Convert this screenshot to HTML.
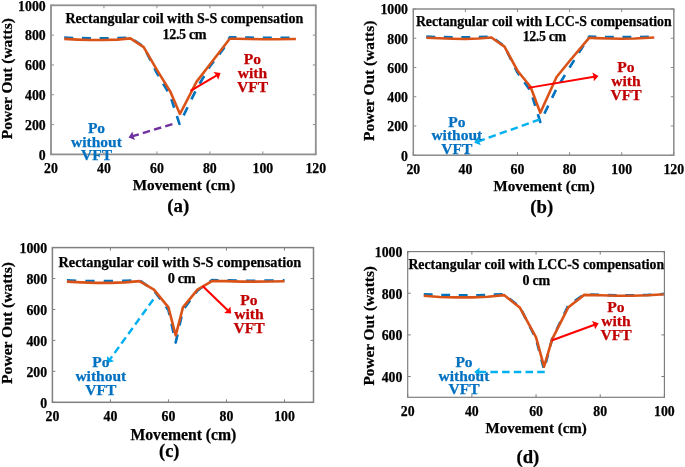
<!DOCTYPE html>
<html><head><meta charset="utf-8"><style>
html,body{margin:0;padding:0;background:#fff;}
svg{display:block;filter:blur(0.5px);}
text{font-family:'Liberation Serif', serif;font-weight:bold;}
</style></head><body>
<svg width="685" height="467" viewBox="0 0 685 467">
<rect width="685" height="467" fill="#fff"/>
<polyline points="64.24,37.65 77.48,38.10 90.72,38.25 103.96,38.25 117.20,38.10 130.44,37.80 143.68,46.75 156.92,73.14 170.16,95.51 179.43,123.83 196.64,88.80 209.88,66.43 223.12,49.28 229.74,37.36 236.36,37.36 249.60,37.65 262.84,37.80 276.08,37.80 295.94,37.65" fill="none" stroke="#0072bd" stroke-width="2.6" stroke-linejoin="round" stroke-dasharray="9 8.7"/>
<polyline points="64.24,38.85 77.48,39.59 90.72,40.04 103.96,40.04 117.20,39.59 130.44,38.40 143.68,47.05 156.92,69.86 170.16,91.33 179.96,113.99 196.64,81.64 209.88,64.49 229.74,38.70 236.36,38.70 249.60,39.00 262.84,39.29 276.08,39.29 295.94,39.00" fill="none" stroke="#d95319" stroke-width="2.6" stroke-linejoin="round"/>
<rect x="51" y="5.3" width="264.80" height="149.10" fill="none" stroke="#909090" stroke-width="1.8"/>
<path d="M51.00,154.4v-3M51.00,5.3v3M103.96,154.4v-3M103.96,5.3v3M156.92,154.4v-3M156.92,5.3v3M209.88,154.4v-3M209.88,5.3v3M262.84,154.4v-3M262.84,5.3v3M315.80,154.4v-3M315.80,5.3v3M51,154.40h3M315.8,154.40h-3M51,124.58h3M315.8,124.58h-3M51,94.76h3M315.8,94.76h-3M51,64.94h3M315.8,64.94h-3M51,35.12h3M315.8,35.12h-3M51,5.30h3M315.8,5.30h-3" stroke="#909090" stroke-width="1" fill="none"/>
<text x="51.00" y="172.90" font-size="13.8" fill="#000" stroke="#000" stroke-width="0.25" text-anchor="middle" >20</text>
<text x="103.96" y="172.90" font-size="13.8" fill="#000" stroke="#000" stroke-width="0.25" text-anchor="middle" >40</text>
<text x="156.92" y="172.90" font-size="13.8" fill="#000" stroke="#000" stroke-width="0.25" text-anchor="middle" >60</text>
<text x="209.88" y="172.90" font-size="13.8" fill="#000" stroke="#000" stroke-width="0.25" text-anchor="middle" >80</text>
<text x="262.84" y="172.90" font-size="13.8" fill="#000" stroke="#000" stroke-width="0.25" text-anchor="middle" >100</text>
<text x="315.80" y="172.90" font-size="13.8" fill="#000" stroke="#000" stroke-width="0.25" text-anchor="middle" >120</text>
<text x="45.70" y="159.70" font-size="13.8" fill="#000" stroke="#000" stroke-width="0.25" text-anchor="end" >0</text>
<text x="45.70" y="129.88" font-size="13.8" fill="#000" stroke="#000" stroke-width="0.25" text-anchor="end" >200</text>
<text x="45.70" y="100.06" font-size="13.8" fill="#000" stroke="#000" stroke-width="0.25" text-anchor="end" >400</text>
<text x="45.70" y="70.24" font-size="13.8" fill="#000" stroke="#000" stroke-width="0.25" text-anchor="end" >600</text>
<text x="45.70" y="40.42" font-size="13.8" fill="#000" stroke="#000" stroke-width="0.25" text-anchor="end" >800</text>
<text x="45.70" y="10.60" font-size="13.8" fill="#000" stroke="#000" stroke-width="0.25" text-anchor="end" >1000</text>
<text x="184.35" y="23.40" font-size="14" fill="#000" stroke="#000" stroke-width="0.25" text-anchor="middle" >Rectangular coil with S-S compensation</text>
<text x="184.40" y="38.90" font-size="14.1" fill="#000" stroke="#000" stroke-width="0.25" text-anchor="middle" letter-spacing="-0.35">12.5 cm</text>
<line x1="190.50" y1="90.90" x2="216.73" y2="75.30" stroke="#ff0000" stroke-width="2.1"/>
<polygon points="220.60,73.00 218.17,79.68 216.30,75.56 213.57,71.94" fill="#ff0000"/>
<text x="252.50" y="64.10" font-size="15.6" fill="#c00000" stroke="#c00000" stroke-width="0.25" text-anchor="middle" >Po</text>
<text x="252.50" y="78.10" font-size="15.6" fill="#c00000" stroke="#c00000" stroke-width="0.25" text-anchor="middle" >with</text>
<text x="252.50" y="92.10" font-size="15.6" fill="#c00000" stroke="#c00000" stroke-width="0.25" text-anchor="middle" >VFT</text>
<line x1="172.40" y1="124.10" x2="132.81" y2="136.10" stroke="#7030a0" stroke-width="2.4" stroke-dasharray="7.5 4.2"/>
<polygon points="128.50,137.40 132.46,131.50 133.29,135.95 135.07,140.11" fill="#7030a0"/>
<text x="96.50" y="133.10" font-size="15.5" fill="#0070c0" stroke="#0070c0" stroke-width="0.25" text-anchor="middle" >Po</text>
<text x="96.50" y="146.70" font-size="15.5" fill="#0070c0" stroke="#0070c0" stroke-width="0.25" text-anchor="middle" >without</text>
<text x="96.50" y="160.30" font-size="15.5" fill="#0070c0" stroke="#0070c0" stroke-width="0.25" text-anchor="middle" >VFT</text>
<text x="184.00" y="190.00" font-size="15.2" fill="#000" stroke="#000" stroke-width="0.25" text-anchor="middle" >Movement (cm)</text>
<text x="178.30" y="212.00" font-size="18.9" fill="#000" stroke="#000" stroke-width="0.25" text-anchor="middle" >(a)</text>
<text transform="translate(12.3,78.7) rotate(-90)" stroke="#000" stroke-width="0.25" font-size="15.5" text-anchor="middle">Power Out (watts)</text>
<polyline points="426.32,36.63 439.35,37.07 452.38,37.36 465.40,37.36 478.43,37.07 491.45,36.78 504.47,46.28 517.50,72.60 530.52,90.87 540.29,122.01 556.58,88.68 569.60,67.48 589.14,36.63 595.65,36.78 608.67,37.07 621.70,37.07 634.72,37.07 654.26,36.78" fill="none" stroke="#0072bd" stroke-width="2.6" stroke-linejoin="round" stroke-dasharray="8.9 8.6"/>
<polyline points="426.32,37.80 439.35,38.24 452.38,38.68 465.40,38.97 478.43,38.53 491.45,37.51 504.47,46.57 517.50,70.70 530.52,86.78 540.29,112.80 556.58,76.98 569.60,61.05 589.14,37.80 595.65,38.09 608.67,38.53 621.70,38.82 634.72,38.53 654.26,37.51" fill="none" stroke="#d95319" stroke-width="2.6" stroke-linejoin="round"/>
<rect x="413.3" y="9.0" width="260.50" height="146.20" fill="none" stroke="#8a8a8a" stroke-width="1.5"/>
<path d="M413.30,155.2v-3M413.30,9.0v3M465.40,155.2v-3M465.40,9.0v3M517.50,155.2v-3M517.50,9.0v3M569.60,155.2v-3M569.60,9.0v3M621.70,155.2v-3M621.70,9.0v3M673.80,155.2v-3M673.80,9.0v3M413.3,155.20h3M673.8,155.20h-3M413.3,125.96h3M673.8,125.96h-3M413.3,96.72h3M673.8,96.72h-3M413.3,67.48h3M673.8,67.48h-3M413.3,38.24h3M673.8,38.24h-3M413.3,9.00h3M673.8,9.00h-3" stroke="#8a8a8a" stroke-width="1" fill="none"/>
<text x="413.30" y="173.70" font-size="13.8" fill="#000" stroke="#000" stroke-width="0.25" text-anchor="middle" >20</text>
<text x="465.40" y="173.70" font-size="13.8" fill="#000" stroke="#000" stroke-width="0.25" text-anchor="middle" >40</text>
<text x="517.50" y="173.70" font-size="13.8" fill="#000" stroke="#000" stroke-width="0.25" text-anchor="middle" >60</text>
<text x="569.60" y="173.70" font-size="13.8" fill="#000" stroke="#000" stroke-width="0.25" text-anchor="middle" >80</text>
<text x="621.70" y="173.70" font-size="13.8" fill="#000" stroke="#000" stroke-width="0.25" text-anchor="middle" >100</text>
<text x="673.80" y="173.70" font-size="13.8" fill="#000" stroke="#000" stroke-width="0.25" text-anchor="middle" >120</text>
<text x="408.00" y="160.50" font-size="13.8" fill="#000" stroke="#000" stroke-width="0.25" text-anchor="end" >0</text>
<text x="408.00" y="131.26" font-size="13.8" fill="#000" stroke="#000" stroke-width="0.25" text-anchor="end" >200</text>
<text x="408.00" y="102.02" font-size="13.8" fill="#000" stroke="#000" stroke-width="0.25" text-anchor="end" >400</text>
<text x="408.00" y="72.78" font-size="13.8" fill="#000" stroke="#000" stroke-width="0.25" text-anchor="end" >600</text>
<text x="408.00" y="43.54" font-size="13.8" fill="#000" stroke="#000" stroke-width="0.25" text-anchor="end" >800</text>
<text x="408.00" y="14.30" font-size="13.8" fill="#000" stroke="#000" stroke-width="0.25" text-anchor="end" >1000</text>
<text x="543.80" y="26.10" font-size="13.8" fill="#000" stroke="#000" stroke-width="0.25" text-anchor="middle" >Rectangular coil with LCC-S compensation</text>
<text x="544.20" y="41.20" font-size="14" fill="#000" stroke="#000" stroke-width="0.25" text-anchor="middle" letter-spacing="-0.4">12.5 cm</text>
<line x1="528.20" y1="87.90" x2="594.06" y2="76.75" stroke="#ff0000" stroke-width="1.9"/>
<polygon points="598.50,76.00 593.83,81.35 593.57,76.83 592.33,72.48" fill="#ff0000"/>
<text x="626.00" y="71.90" font-size="15.6" fill="#c00000" stroke="#c00000" stroke-width="0.25" text-anchor="middle" >Po</text>
<text x="626.00" y="85.90" font-size="15.6" fill="#c00000" stroke="#c00000" stroke-width="0.25" text-anchor="middle" >with</text>
<text x="626.00" y="99.90" font-size="15.6" fill="#c00000" stroke="#c00000" stroke-width="0.25" text-anchor="middle" >VFT</text>
<line x1="539.80" y1="119.40" x2="478.44" y2="141.29" stroke="#00b0f0" stroke-width="2.4" stroke-dasharray="7.5 4.2"/>
<polygon points="474.20,142.80 477.87,136.71 478.91,141.12 480.89,145.19" fill="#00b0f0"/>
<text x="456.80" y="126.60" font-size="15.5" fill="#0070c0" stroke="#0070c0" stroke-width="0.25" text-anchor="middle" >Po</text>
<text x="456.80" y="140.20" font-size="15.5" fill="#0070c0" stroke="#0070c0" stroke-width="0.25" text-anchor="middle" >without</text>
<text x="456.80" y="153.80" font-size="15.5" fill="#0070c0" stroke="#0070c0" stroke-width="0.25" text-anchor="middle" >VFT</text>
<text x="544.20" y="191.00" font-size="15" fill="#000" stroke="#000" stroke-width="0.25" text-anchor="middle" >Movement (cm)</text>
<text x="541.70" y="212.50" font-size="18.7" fill="#000" stroke="#000" stroke-width="0.25" text-anchor="middle" >(b)</text>
<text transform="translate(374.3,80.8) rotate(-90)" stroke="#000" stroke-width="0.25" font-size="15.4" text-anchor="middle">Power Out (watts)</text>
<polyline points="66.91,280.40 81.41,280.86 95.92,281.17 110.42,281.17 124.93,280.86 139.43,280.09 153.94,290.61 168.44,310.10 175.70,342.59 182.95,310.10 197.46,290.61 211.96,280.09 226.47,280.40 240.97,280.71 255.48,280.71 269.98,280.55 284.49,280.40" fill="none" stroke="#0072bd" stroke-width="2.6" stroke-linejoin="round" stroke-dasharray="9.3 9.1"/>
<polyline points="66.91,281.63 81.41,282.41 95.92,282.87 110.42,282.87 124.93,282.41 139.43,281.17 153.94,289.68 168.44,307.31 175.70,335.47 182.95,307.31 197.46,289.68 211.96,281.02 226.47,281.17 240.97,281.63 255.48,281.63 269.98,281.48 284.49,281.32" fill="none" stroke="#d95319" stroke-width="2.6" stroke-linejoin="round"/>
<rect x="52.4" y="247.6" width="261.10" height="154.70" fill="none" stroke="#808080" stroke-width="1.5"/>
<path d="M52.40,402.3v-3M52.40,247.6v3M110.42,402.3v-3M110.42,247.6v3M168.44,402.3v-3M168.44,247.6v3M226.47,402.3v-3M226.47,247.6v3M284.49,402.3v-3M284.49,247.6v3M52.4,402.30h3M313.5,402.30h-3M52.4,371.36h3M313.5,371.36h-3M52.4,340.42h3M313.5,340.42h-3M52.4,309.48h3M313.5,309.48h-3M52.4,278.54h3M313.5,278.54h-3M52.4,247.60h3M313.5,247.60h-3" stroke="#808080" stroke-width="1" fill="none"/>
<text x="52.40" y="420.80" font-size="13.8" fill="#000" stroke="#000" stroke-width="0.25" text-anchor="middle" >20</text>
<text x="110.42" y="420.80" font-size="13.8" fill="#000" stroke="#000" stroke-width="0.25" text-anchor="middle" >40</text>
<text x="168.44" y="420.80" font-size="13.8" fill="#000" stroke="#000" stroke-width="0.25" text-anchor="middle" >60</text>
<text x="226.47" y="420.80" font-size="13.8" fill="#000" stroke="#000" stroke-width="0.25" text-anchor="middle" >80</text>
<text x="284.49" y="420.80" font-size="13.8" fill="#000" stroke="#000" stroke-width="0.25" text-anchor="middle" >100</text>
<text x="47.10" y="407.60" font-size="13.8" fill="#000" stroke="#000" stroke-width="0.25" text-anchor="end" >0</text>
<text x="47.10" y="376.66" font-size="13.8" fill="#000" stroke="#000" stroke-width="0.25" text-anchor="end" >200</text>
<text x="47.10" y="345.72" font-size="13.8" fill="#000" stroke="#000" stroke-width="0.25" text-anchor="end" >400</text>
<text x="47.10" y="314.78" font-size="13.8" fill="#000" stroke="#000" stroke-width="0.25" text-anchor="end" >600</text>
<text x="47.10" y="283.84" font-size="13.8" fill="#000" stroke="#000" stroke-width="0.25" text-anchor="end" >800</text>
<text x="47.10" y="252.90" font-size="13.8" fill="#000" stroke="#000" stroke-width="0.25" text-anchor="end" >1000</text>
<text x="179.90" y="267.00" font-size="14.3" fill="#000" stroke="#000" stroke-width="0.25" text-anchor="middle" >Rectangular coil with S-S compensation</text>
<text x="181.60" y="282.70" font-size="14.3" fill="#000" stroke="#000" stroke-width="0.25" text-anchor="middle" letter-spacing="-0.3">0 cm</text>
<line x1="202.60" y1="286.10" x2="227.96" y2="310.48" stroke="#ff0000" stroke-width="2.1"/>
<polygon points="231.20,313.60 224.12,313.03 227.60,310.13 230.35,306.54" fill="#ff0000"/>
<text x="249.00" y="305.00" font-size="15.6" fill="#c00000" stroke="#c00000" stroke-width="0.25" text-anchor="middle" >Po</text>
<text x="249.00" y="319.00" font-size="15.6" fill="#c00000" stroke="#c00000" stroke-width="0.25" text-anchor="middle" >with</text>
<text x="249.00" y="333.00" font-size="15.6" fill="#c00000" stroke="#c00000" stroke-width="0.25" text-anchor="middle" >VFT</text>
<line x1="153.30" y1="299.50" x2="109.94" y2="359.36" stroke="#00b0f0" stroke-width="2.4" stroke-dasharray="7.5 4.2"/>
<polygon points="107.30,363.00 106.88,355.91 110.23,358.95 114.17,361.19" fill="#00b0f0"/>
<text x="100.80" y="366.90" font-size="15.5" fill="#0070c0" stroke="#0070c0" stroke-width="0.25" text-anchor="middle" >Po</text>
<text x="100.80" y="380.80" font-size="15.5" fill="#0070c0" stroke="#0070c0" stroke-width="0.25" text-anchor="middle" >without</text>
<text x="100.80" y="394.70" font-size="15.5" fill="#0070c0" stroke="#0070c0" stroke-width="0.25" text-anchor="middle" >VFT</text>
<text x="183.40" y="439.50" font-size="15.7" fill="#000" stroke="#000" stroke-width="0.25" text-anchor="middle" >Movement (cm)</text>
<text x="169.20" y="457.00" font-size="18.3" fill="#000" stroke="#000" stroke-width="0.25" text-anchor="middle" >(c)</text>
<text transform="translate(11.5,323) rotate(-90)" stroke="#000" stroke-width="0.25" font-size="15.6" text-anchor="middle">Power Out (watts)</text>
<polyline points="423.74,294.27 439.79,294.89 455.83,295.31 471.88,295.31 487.92,294.89 503.96,294.27 520.01,307.17 536.05,339.02 544.07,369.62 552.09,339.02 568.14,305.72 584.18,294.27 600.22,294.89 616.27,295.31 632.31,295.31 648.36,294.89 664.40,294.06" fill="none" stroke="#0072bd" stroke-width="2.6" stroke-linejoin="round" stroke-dasharray="8.9 8.6"/>
<polyline points="423.74,295.73 439.79,296.98 455.83,297.39 471.88,297.39 487.92,296.77 503.96,295.10 520.01,307.80 536.05,337.35 544.07,366.70 552.09,339.44 568.14,307.59 584.18,294.89 600.22,295.31 616.27,295.73 632.31,295.73 648.36,295.31 664.40,294.27" fill="none" stroke="#d95319" stroke-width="2.6" stroke-linejoin="round"/>
<rect x="407.7" y="251.6" width="256.70" height="145.70" fill="none" stroke="#7a7a7a" stroke-width="1.15"/>
<path d="M407.70,397.3v-3M407.70,251.6v3M471.88,397.3v-3M471.88,251.6v3M536.05,397.3v-3M536.05,251.6v3M600.22,397.3v-3M600.22,251.6v3M664.40,397.3v-3M664.40,251.6v3M407.7,376.49h3M664.4,376.49h-3M407.7,334.86h3M664.4,334.86h-3M407.7,293.23h3M664.4,293.23h-3M407.7,251.60h3M664.4,251.60h-3" stroke="#7a7a7a" stroke-width="1" fill="none"/>
<text x="407.70" y="415.80" font-size="13.8" fill="#000" stroke="#000" stroke-width="0.25" text-anchor="middle" >20</text>
<text x="471.88" y="415.80" font-size="13.8" fill="#000" stroke="#000" stroke-width="0.25" text-anchor="middle" >40</text>
<text x="536.05" y="415.80" font-size="13.8" fill="#000" stroke="#000" stroke-width="0.25" text-anchor="middle" >60</text>
<text x="600.22" y="415.80" font-size="13.8" fill="#000" stroke="#000" stroke-width="0.25" text-anchor="middle" >80</text>
<text x="664.40" y="415.80" font-size="13.8" fill="#000" stroke="#000" stroke-width="0.25" text-anchor="middle" >100</text>
<text x="402.40" y="381.79" font-size="13.8" fill="#000" stroke="#000" stroke-width="0.25" text-anchor="end" >400</text>
<text x="402.40" y="340.16" font-size="13.8" fill="#000" stroke="#000" stroke-width="0.25" text-anchor="end" >600</text>
<text x="402.40" y="298.53" font-size="13.8" fill="#000" stroke="#000" stroke-width="0.25" text-anchor="end" >800</text>
<text x="402.40" y="256.90" font-size="13.8" fill="#000" stroke="#000" stroke-width="0.25" text-anchor="end" >1000</text>
<text x="536.30" y="269.00" font-size="13.8" fill="#000" stroke="#000" stroke-width="0.25" text-anchor="middle" >Rectangular coil with LCC-S compensation</text>
<text x="536.20" y="284.60" font-size="14" fill="#000" stroke="#000" stroke-width="0.25" text-anchor="middle" letter-spacing="-0.3">0 cm</text>
<line x1="551.60" y1="340.60" x2="594.48" y2="324.76" stroke="#ff0000" stroke-width="2.1"/>
<polygon points="598.70,323.20 595.10,329.33 594.01,324.93 591.98,320.88" fill="#ff0000"/>
<text x="616.00" y="312.10" font-size="15.6" fill="#c00000" stroke="#c00000" stroke-width="0.25" text-anchor="middle" >Po</text>
<text x="616.00" y="326.10" font-size="15.6" fill="#c00000" stroke="#c00000" stroke-width="0.25" text-anchor="middle" >with</text>
<text x="616.00" y="340.10" font-size="15.6" fill="#c00000" stroke="#c00000" stroke-width="0.25" text-anchor="middle" >VFT</text>
<line x1="544.70" y1="372.00" x2="478.70" y2="372.00" stroke="#00b0f0" stroke-width="2.4" stroke-dasharray="7.5 4.2"/>
<polygon points="474.20,372.00 479.70,367.50 479.20,372.00 479.70,376.50" fill="#00b0f0"/>
<text x="464.00" y="367.20" font-size="15.5" fill="#0070c0" stroke="#0070c0" stroke-width="0.25" text-anchor="middle" >Po</text>
<text x="464.00" y="380.70" font-size="15.5" fill="#0070c0" stroke="#0070c0" stroke-width="0.25" text-anchor="middle" >without</text>
<text x="464.00" y="394.20" font-size="15.5" fill="#0070c0" stroke="#0070c0" stroke-width="0.25" text-anchor="middle" >VFT</text>
<text x="536.20" y="433.00" font-size="15" fill="#000" stroke="#000" stroke-width="0.25" text-anchor="middle" >Movement (cm)</text>
<text x="527.90" y="463.00" font-size="18.7" fill="#000" stroke="#000" stroke-width="0.25" text-anchor="middle" >(d)</text>
<text transform="translate(374,325.8) rotate(-90)" stroke="#000" stroke-width="0.25" font-size="15.3" text-anchor="middle">Power Out (watts)</text>
</svg>
</body></html>
